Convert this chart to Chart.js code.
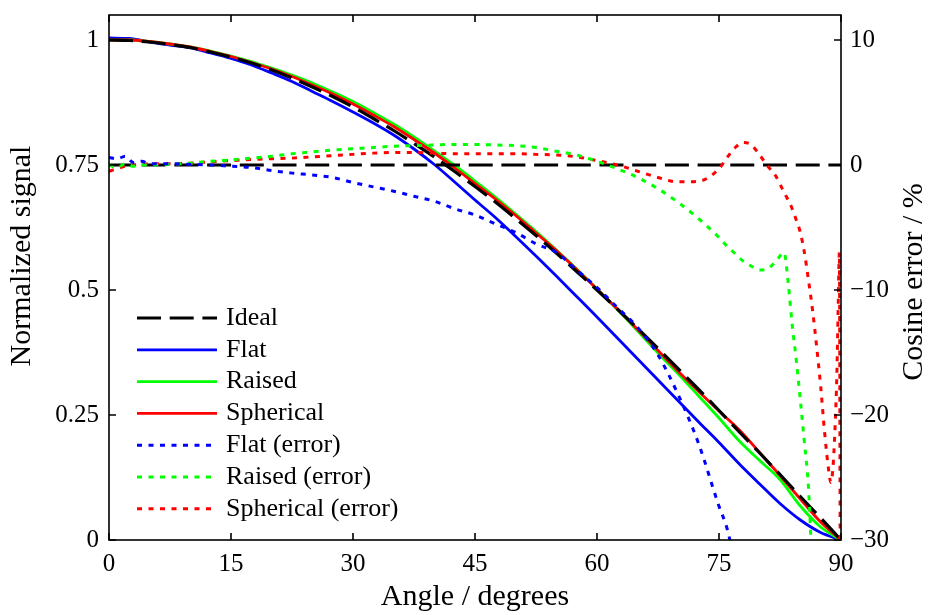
<!DOCTYPE html>
<html>
<head>
<meta charset="utf-8">
<title>Cosine response</title>
<script src="https://cdn.jsdelivr.net/npm/chart.js@4.4.0/dist/chart.umd.min.js"></script>
<style>
  html, body { margin: 0; padding: 0; background: #fff; }
  #wrap { width: 928px; height: 615px; }
</style>
</head>
<body>
<div id="wrap"><canvas id="cosineChart" width="928" height="615"></canvas></div>
<script>
"use strict";

// normalized signal, sampled every 2.5 degrees
var angles = [0, 2.5, 5, 7.5, 10, 12.5, 15, 17.5, 20, 22.5, 25, 27.5, 30, 32.5, 35, 37.5, 40, 42.5, 45,
    47.5, 50, 52.5, 55, 57.5, 60, 62.5, 65, 67.5, 70, 72.5, 75, 77.5, 80, 82.5, 85, 87.5, 90];
var ideal = [1.000, 0.999, 0.996, 0.991, 0.985, 0.976, 0.966, 0.954, 0.940, 0.924, 0.906, 0.887, 0.866, 0.843,
    0.819, 0.793, 0.766, 0.737, 0.707, 0.676, 0.643, 0.609, 0.574, 0.537, 0.500, 0.462, 0.423, 0.383, 0.342,
    0.301, 0.259, 0.216, 0.174, 0.131, 0.087, 0.044, 0.000];
var flat = [1.004, 1.003, 0.996, 0.990, 0.984, 0.974, 0.963, 0.950, 0.934, 0.917, 0.897, 0.877, 0.856, 0.834,
    0.810, 0.782, 0.751, 0.716, 0.680, 0.645, 0.607, 0.568, 0.528, 0.487, 0.446, 0.404, 0.362, 0.320, 0.278,
    0.236, 0.195, 0.152, 0.112, 0.073, 0.040, 0.015, 0.000];
var raised = [1.000, 1.000, 0.997, 0.992, 0.986, 0.978, 0.968, 0.957, 0.944, 0.930, 0.914, 0.896, 0.877, 0.855,
    0.832, 0.806, 0.778, 0.749, 0.718, 0.686, 0.652, 0.617, 0.580, 0.542, 0.502, 0.461, 0.418, 0.374, 0.332,
    0.288, 0.244, 0.198, 0.159, 0.121, 0.068, 0.026, 0.000];
var spherical = [1.000, 1.000, 0.997, 0.992, 0.986, 0.977, 0.967, 0.955, 0.942, 0.927, 0.910, 0.892, 0.872, 0.850,
    0.827, 0.801, 0.774, 0.744, 0.713, 0.682, 0.649, 0.614, 0.579, 0.541, 0.502, 0.462, 0.421, 0.379, 0.337,
    0.297, 0.258, 0.220, 0.175, 0.129, 0.082, 0.036, 0.000];

// cosine error in %, finer steps towards grazing incidence
var errAngles = [0, 1, 2, 3, 4, 5, 7.5, 10, 12.5, 15, 17.5, 20, 22.5, 25, 27.5, 30, 32.5, 35, 37.5, 40, 42.5,
    45, 47.5, 50, 52.5, 55, 57.5, 60, 62.5, 65, 67.5, 70, 72.5, 75, 76, 77, 78, 79, 80, 81, 82, 83, 83.5, 84,
    84.5, 85, 85.5, 86, 86.5, 87, 87.5, 88, 88.5, 88.75, 89, 89.25, 89.5, 89.65, 89.8, 89.9];
var flatError = [0.6, 0.5, 0.7, 0.2, 0.3, 0.1, 0.1, 0.05, 0.0, -0.1, -0.2, -0.45, -0.65, -0.8, -1.0, -1.4,
    -1.75, -2.1, -2.5, -2.9, -3.5, -4.0, -4.7, -5.4, -6.3, -7.0, -8.4, -9.8, -11.4, -13.0, -15.2, -18.4,
    -22.3, -27.3, -29.1, -32.0, null, null, null, null, null, null, null, null, null, null, null, null, null,
    null, null, null, null, null, null, null, null, null, null, null];
var raisedError = [0.0, -0.2, 0.1, -0.1, 0.0, 0.0, 0.05, 0.15, 0.3, 0.4, 0.55, 0.7, 0.9, 1.05, 1.2, 1.3,
    1.4, 1.5, 1.55, 1.6, 1.65, 1.65, 1.6, 1.55, 1.4, 1.1, 0.8, 0.3, -0.3, -1.0, -1.9, -3.0, -4.3, -5.8,
    -6.5, -7.1, -7.7, -8.1, -8.4, -8.3, -7.7, -7.0, -9.4, -12.8, -15.6, -18.8, -22.2, -25.8, -33.0, null,
    null, null, null, null, null, null, null, null, null, null];
var sphericalError = [-0.5, -0.3, -0.1, 0.0, 0.05, 0.1, 0.1, 0.15, 0.25, 0.35, 0.45, 0.5, 0.55, 0.65, 0.75,
    0.85, 0.95, 1.0, 1.0, 0.95, 0.9, 0.9, 0.9, 0.9, 0.85, 0.8, 0.65, 0.35, 0.0, -0.5, -1.0, -1.35, -1.3, -0.3,
    0.6, 1.4, 1.8, 1.6, 0.8, -0.1, -0.9, -2.2, -2.8, -3.5, -4.4, -5.4, -7.0, -9.2, -11.6, -14.5, -17.7, -21.5,
    -24.5, -25.4, -24.3, -21.3, -16.5, -11.5, -7.0, -31.0];
var zeroAngles = [0, 90];
var zeroError = [0, 0];

var angleTicks = [0, 15, 30, 45, 60, 75, 90];
var signalTicks = [0, 0.25, 0.5, 0.75, 1];
var errorTicks = [-30, -20, -10, 0, 10];

var SERIF = "'Liberation Serif', 'Times New Roman', serif";
var DASHED = [24, 8.7];
var DOTTED = [5, 6.5];

function pairs(xs, ys) {
    return xs.map(function (x, i) { return { x: x, y: ys[i] }; });
}

function minusSign(v) {
    return v < 0 ? '\u2212' + Math.abs(v) : String(v);
}

// no label overhang above/below the plot box
function fixVertical(width) {
    return function (scale) {
        scale.width = width;
        scale.paddingTop = 0;
        scale.paddingBottom = 0;
    };
}

// matlab style box: full frame with ticks pointing into the plot
var boxTicks = {
    id: 'boxTicks',
    afterDatasetsDraw: function (chart) {
        var ctx = chart.ctx;
        var a = chart.chartArea;
        var len = 7;
        var sx = chart.scales.x, sy = chart.scales.y, sy2 = chart.scales.y2;
        ctx.save();
        ctx.strokeStyle = '#000';
        ctx.lineWidth = 1.6;
        ctx.setLineDash([]);
        ctx.strokeRect(a.left, a.top, a.right - a.left, a.bottom - a.top);
        ctx.beginPath();
        sx.ticks.forEach(function (t) {
            var px = sx.getPixelForValue(t.value);
            ctx.moveTo(px, a.bottom); ctx.lineTo(px, a.bottom - len);
            ctx.moveTo(px, a.top); ctx.lineTo(px, a.top + len);
        });
        sy.ticks.forEach(function (t) {
            var py = sy.getPixelForValue(t.value);
            ctx.moveTo(a.left, py); ctx.lineTo(a.left + len, py);
        });
        sy2.ticks.forEach(function (t) {
            var py = sy2.getPixelForValue(t.value);
            ctx.moveTo(a.right, py); ctx.lineTo(a.right - len, py);
        });
        ctx.stroke();
        ctx.restore();
    }
};

function sideTitle(ctx, text, x, y) {
    ctx.save();
    ctx.translate(x, y);
    ctx.rotate(-Math.PI / 2);
    ctx.fillText(text, 0, 0);
    ctx.restore();
}

// legend inside the plot, plus both y axis titles (reading bottom to top)
var innerLegend = {
    id: 'innerLegend',
    afterDraw: function (chart, args, opts) {
        var ctx = chart.ctx;
        ctx.save();
        ctx.font = opts.fontSize + 'px ' + SERIF;
        ctx.textBaseline = 'middle';
        ctx.textAlign = 'left';
        var row = 0;
        chart.data.datasets.forEach(function (ds) {
            if (!ds.label) { return; }
            var y = opts.top + row * opts.rowHeight;
            ctx.strokeStyle = ds.borderColor;
            ctx.lineWidth = ds.borderWidth;
            ctx.setLineDash(ds.borderDash || []);
            ctx.beginPath();
            ctx.moveTo(opts.left, y);
            ctx.lineTo(opts.left + opts.lineLength, y);
            ctx.stroke();
            ctx.fillStyle = '#000';
            ctx.fillText(ds.label, opts.left + opts.lineLength + 9, y);
            row++;
        });

        ctx.setLineDash([]);
        ctx.font = '30px ' + SERIF;
        ctx.textAlign = 'center';
        sideTitle(ctx, 'Normalized signal', 22, 256);
        sideTitle(ctx, 'Cosine error / %', 914, 282);
        ctx.restore();
    }
};

var ctx = document.getElementById('cosineChart').getContext('2d');
new Chart(ctx, {
    type: 'line',
    data: {
        datasets: [
            { label: 'Ideal', data: pairs(angles, ideal), yAxisID: 'y', borderColor: '#000000',
              borderWidth: 3.2, borderDash: DASHED, order: 2 },
            { label: 'Flat', data: pairs(angles, flat), yAxisID: 'y', borderColor: '#0000ff',
              borderWidth: 2.8, order: 5 },
            { label: 'Raised', data: pairs(angles, raised), yAxisID: 'y', borderColor: '#00ff00',
              borderWidth: 2.8, order: 4 },
            { label: 'Spherical', data: pairs(angles, spherical), yAxisID: 'y', borderColor: '#ff0000',
              borderWidth: 2.8, order: 3 },
            { label: 'Flat (error)', data: pairs(errAngles, flatError), yAxisID: 'y2', borderColor: '#0000ff',
              borderWidth: 3, borderDash: DOTTED, order: 0 },
            { label: 'Raised (error)', data: pairs(errAngles, raisedError), yAxisID: 'y2', borderColor: '#00ff00',
              borderWidth: 3, borderDash: DOTTED, order: 0 },
            { label: 'Spherical (error)', data: pairs(errAngles, sphericalError), yAxisID: 'y2',
              borderColor: '#ff0000', borderWidth: 3, borderDash: DOTTED, order: 0 },
            { label: '', data: pairs(zeroAngles, zeroError), yAxisID: 'y2', borderColor: '#000000',
              borderWidth: 3.2, borderDash: DASHED, order: 1 }
        ]
    },
    options: {
        responsive: false,
        animation: false,
        layout: { padding: { top: 15, right: 0, bottom: 0, left: 0 } },
        elements: {
            point: { radius: 0 },
            line: { cubicInterpolationMode: 'monotone', borderCapStyle: 'butt', fill: false }
        },
        plugins: {
            legend: { display: false },
            tooltip: { enabled: false },
            innerLegend: { left: 137, top: 318, rowHeight: 31.8, lineLength: 80, fontSize: 26 }
        },
        scales: {
            x: {
                type: 'linear', min: 0, max: 90,
                afterFit: function (scale) { scale.height = 75; },
                afterBuildTicks: function (scale) {
                    scale.ticks = angleTicks.map(function (v) { return { value: v }; });
                },
                grid: { display: false, drawTicks: false },
                border: { display: false },
                ticks: { font: { size: 25, family: SERIF }, color: '#000', padding: 9, maxRotation: 0,
                    callback: function (v) { return String(v); } },
                title: { display: true, text: 'Angle / degrees', color: '#000',
                    font: { size: 30, family: SERIF }, padding: { top: 0, bottom: 0 } }
            },
            y: {
                type: 'linear', position: 'left', min: 0, max: 1.05,
                afterFit: fixVertical(109),
                afterBuildTicks: function (scale) {
                    scale.ticks = signalTicks.map(function (v) { return { value: v }; });
                },
                grid: { display: false, drawTicks: false },
                border: { display: false },
                ticks: { font: { size: 25, family: SERIF }, color: '#000', padding: 10,
                    callback: function (v) { return String(v); } }
            },
            y2: {
                type: 'linear', position: 'right', min: -30, max: 12,
                afterFit: fixVertical(87),
                afterBuildTicks: function (scale) {
                    scale.ticks = errorTicks.map(function (v) { return { value: v }; });
                },
                grid: { display: false, drawTicks: false },
                border: { display: false },
                ticks: { font: { size: 25, family: SERIF }, color: '#000', padding: 9,
                    callback: minusSign }
            }
        }
    },
    plugins: [boxTicks, innerLegend]
});
</script>
</body>
</html>
